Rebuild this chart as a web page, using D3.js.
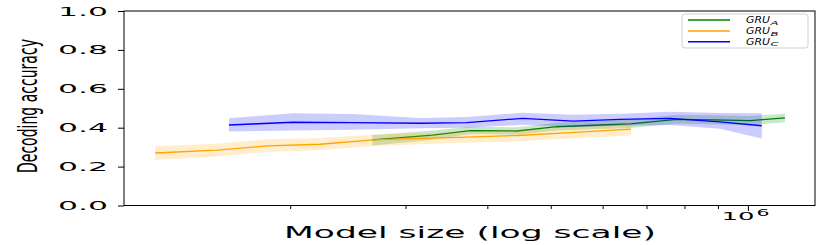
<!DOCTYPE html>
<html><head><meta charset="utf-8">
<script src="https://cdn.jsdelivr.net/npm/d3@7"></script>
<style>body{margin:0;background:#fff}svg{display:block}</style>
</head><body><svg id="c" width="830" height="245"></svg>
<script>
// ---- data ----
const seriesNames = ["A", "B", "C"]; // GRU subscripts
const sizesA = [2.67e5, 3.30e5, 3.77e5, 4.44e5, 5.11e5, 5.94e5, 6.61e5, 7.79e5, 8.84e5, 1.007e6, 1.139e6];
const meanA  = [0.337, 0.362, 0.385, 0.383, 0.405, 0.414, 0.420, 0.443, 0.440, 0.436, 0.451];
const lowA   = [0.308, 0.338, 0.368, 0.365, 0.385, 0.393, 0.398, 0.420, 0.418, 0.413, 0.428];
const highA  = [0.362, 0.385, 0.405, 0.402, 0.425, 0.435, 0.442, 0.466, 0.464, 0.460, 0.472];

const sizesB = [1.244e5, 1.546e5, 1.845e5, 2.22e5, 2.68e5, 3.16e5, 3.72e5, 4.44e5, 5.35e5, 6.63e5];
const meanB  = [0.270, 0.285, 0.307, 0.315, 0.337, 0.345, 0.352, 0.360, 0.375, 0.393];
const lowB   = [0.234, 0.252, 0.275, 0.285, 0.306, 0.315, 0.322, 0.330, 0.345, 0.360];
const highB  = [0.306, 0.318, 0.340, 0.347, 0.364, 0.372, 0.380, 0.388, 0.402, 0.420];

const sizesC = [1.613e5, 2.02e5, 2.49e5, 3.16e5, 3.72e5, 4.53e5, 5.41e5, 6.38e5, 7.6e5, 9.06e5, 1.05e6];
const meanC  = [0.414, 0.428, 0.426, 0.423, 0.426, 0.448, 0.434, 0.443, 0.448, 0.430, 0.410];
const lowC   = [0.380, 0.385, 0.390, 0.397, 0.400, 0.415, 0.402, 0.410, 0.414, 0.395, 0.345];
const highC  = [0.448, 0.474, 0.470, 0.450, 0.455, 0.477, 0.466, 0.472, 0.482, 0.476, 0.474];

const yTicks = [0, 0.2, 0.4, 0.6, 0.8, 1.0];
const yTickLabels = ["0.0", "0.2", "0.4", "0.6", "0.8", "1.0"];
const xMinorTicks = [2e5, 3e5, 4e5, 5e5, 6e5, 7e5, 8e5, 9e5];
const xMajorTicks = [1e6];
const xMajorBase = "10", xMajorExp = "6";
const xLabel = "Model size (log scale)";
const yLabel = "Decoding accuracy";
const legendBase = "GRU";

// ---- layout ----
const svg = d3.select("#c");
const L = 124, R = 815, T = 11, B = 205.5;
const font = "DejaVu Sans, sans-serif";
const x = d3.scaleLog().domain([1.115e5, 1.266e6]).range([L, R]);
const y = d3.scaleLinear().domain([0, 1]).range([B, T]);

// text drawn at natural size then stretched to a measured width
function stretched(g, str, o) {
  const t = g.append("text").text(str)
    .attr("text-anchor", "start")
    .attr("font-family", o.family || font).attr("font-size", o.size)
    .attr("font-style", o.style || "normal").attr("font-weight", o.weight || "normal")
    .attr("fill", "#000");
  const len = t.node().getComputedTextLength();
  const sx = o.width / len;
  let dx = 0;
  if (o.anchor === "middle") dx = -o.width / 2;
  if (o.anchor === "end") dx = -o.width;
  t.attr("transform", `translate(${o.x},${o.y})${o.rotate ? ` rotate(${o.rotate})` : ""} translate(${dx},0) scale(${sx},1)`);
  return t;
}

const series = [
  {name: seriesNames[0], color: "green",  xs: sizesA, m: meanA, lo: lowA, hi: highA},
  {name: seriesNames[1], color: "orange", xs: sizesB, m: meanB, lo: lowB, hi: highB},
  {name: seriesNames[2], color: "blue",   xs: sizesC, m: meanC, lo: lowC, hi: highC}
];

const plot = svg.append("g");
series.forEach(s => {
  const pts = s.xs.map((v, i) => ({x: v, m: s.m[i], lo: s.lo[i], hi: s.hi[i]}));
  plot.append("path").datum(pts)
    .attr("d", d3.area().x(d => x(d.x)).y0(d => y(d.lo)).y1(d => y(d.hi)))
    .attr("fill", s.color).attr("fill-opacity", 0.2).attr("stroke", "none");
  plot.append("path").datum(pts)
    .attr("d", d3.line().x(d => x(d.x)).y(d => y(d.m)))
    .attr("fill", "none").attr("stroke", s.color).attr("stroke-width", 1.3);
});

// frame
svg.append("rect").attr("x", L).attr("y", T).attr("width", R - L).attr("height", B - T)
  .attr("fill", "none").attr("stroke", "#000").attr("stroke-width", 1);

// y axis
const gy = svg.append("g").attr("transform", `translate(${L},0)`)
  .call(d3.axisLeft(y).tickValues(yTicks).tickFormat((d, i) => yTickLabels[i]).tickSize(6).tickPadding(10));
gy.select(".domain").remove();
gy.selectAll(".tick line").attr("stroke", "#000");
gy.selectAll(".tick").each(function(d, i) {
  const t = d3.select(this);
  t.select("text").remove();
  stretched(t, yTickLabels[i], {x: -16, y: 4, size: 11.5, width: 50, anchor: "end"});
});

// x axis minor
const gxm = svg.append("g").attr("transform", `translate(0,${B})`)
  .call(d3.axisBottom(x).tickValues(xMinorTicks).tickFormat("").tickSize(3.5));
gxm.select(".domain").remove();
gxm.selectAll(".tick line").attr("stroke", "#000");
gxm.selectAll(".tick text").remove();
// x axis major
const gx = svg.append("g").attr("transform", `translate(0,${B})`)
  .call(d3.axisBottom(x).tickValues(xMajorTicks).tickFormat("").tickSize(5.5));
gx.select(".domain").remove();
gx.selectAll(".tick line").attr("stroke", "#000");
gx.selectAll(".tick text").remove();
gx.selectAll(".tick").each(function() {
  const t = d3.select(this);
  stretched(t, xMajorBase, {x: -27, y: 14.5, size: 11, width: 33});
  stretched(t, xMajorExp, {x: 8, y: 10, size: 8, width: 13});
});

// axis labels
stretched(svg, xLabel, {x: 470, y: 238, size: 15, width: 372, anchor: "middle"});
stretched(svg, yLabel, {x: 37, y: 106, size: 27, width: 134, anchor: "middle", rotate: -90});

// legend
const lg = svg.append("g");
lg.append("rect").attr("x", 682).attr("y", 14).attr("width", 126).attr("height", 34).attr("rx", 3)
  .attr("fill", "#fff").attr("fill-opacity", 0.8).attr("stroke", "#d0d0d0").attr("stroke-width", 1);
const legY = [20, 31, 41.7];
series.forEach((s, i) => {
  lg.append("line").attr("x1", 688).attr("x2", 730).attr("y1", legY[i]).attr("y2", legY[i])
    .attr("stroke", s.color).attr("stroke-width", 1.4);
  stretched(lg, legendBase, {x: 746, y: legY[i] + 3, size: 8, width: 24, style: "italic"});
  stretched(lg, s.name, {x: 770.5, y: legY[i] + 4.5, size: 6, width: 8, style: "italic"});
});
</script></body></html>
